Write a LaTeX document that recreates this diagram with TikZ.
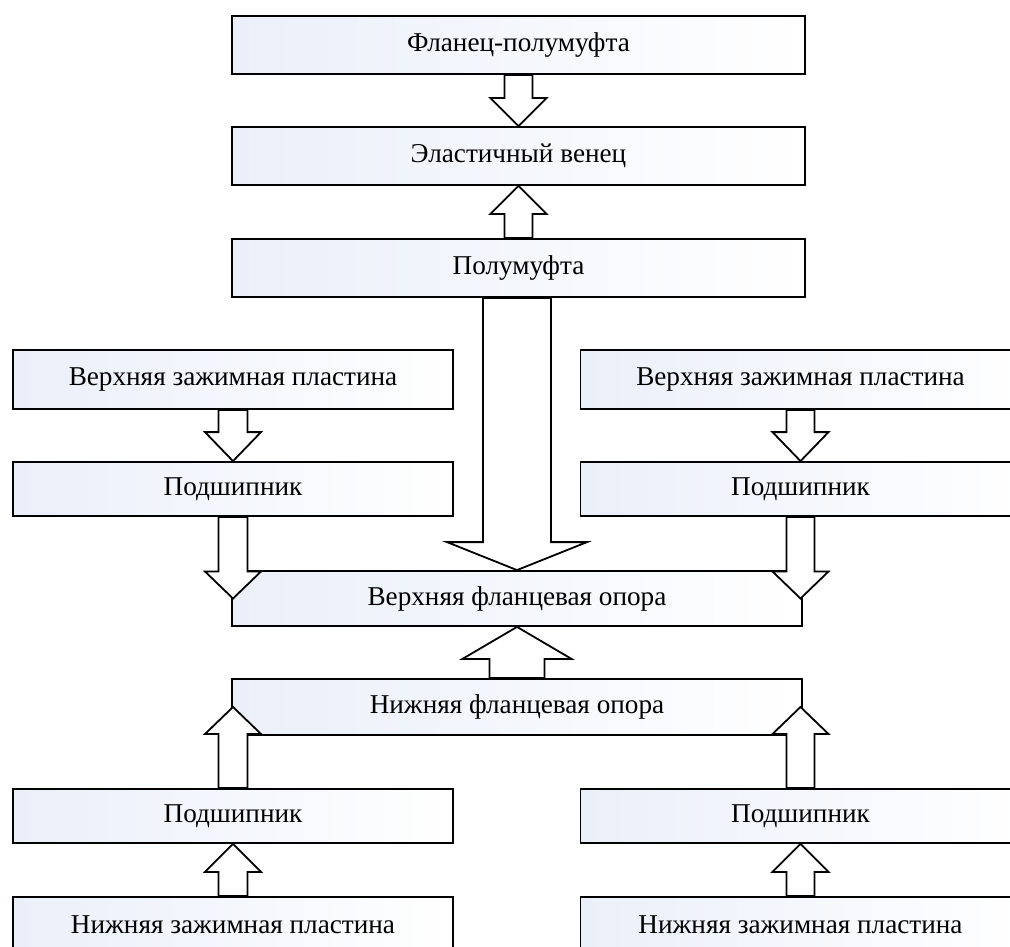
\documentclass[tikz,border=0pt]{standalone}
\usepackage{fontspec}
\setmainfont{Liberation Serif}
\usetikzlibrary{calc}
\definecolor{boxtint}{RGB}{234,239,249}
\tikzset{
  unit/.style={draw=black, line width=1.8pt, left color=boxtint, right color=white,
    inner sep=0pt, font=\fontsize{27.2}{31}\selectfont},
  blk/.style={draw=black, fill=white, line width=1.8pt, line join=miter},
}
% hollow block arrows: #1 start, #2 tip, #3 stem half width, #4 head half width, #5 head length
\newcommand\blkdown[5]{%
  \draw[blk] let \p1=(#1), \p2=(#2) in
    (\x2,\y2) -- (\x2+#4,\y2+#5) -- (\x2+#3,\y2+#5) -- (\x2+#3,\y1)
    -- (\x2-#3,\y1) -- (\x2-#3,\y2+#5) -- (\x2-#4,\y2+#5) -- cycle;}
\newcommand\blkup[5]{%
  \draw[blk] let \p1=(#1), \p2=(#2) in
    (\x2,\y2) -- (\x2+#4,\y2-#5) -- (\x2+#3,\y2-#5) -- (\x2+#3,\y1)
    -- (\x2-#3,\y1) -- (\x2-#3,\y2-#5) -- (\x2-#4,\y2-#5) -- cycle;}
\begin{document}
\begin{tikzpicture}[x=1pt, y=-1pt]
  \useasboundingbox (0,0) rectangle (1010,947);
  \clip (0,0) rectangle (1010,947);

  % central chain
  \node[unit, minimum width=573pt, minimum height=58pt] (flanec) at (518.5,45) {Фланец-полумуфта};
  \node[unit, minimum width=573pt, minimum height=58pt] (elast)  at (518.5,156) {Эластичный венец};
  \node[unit, minimum width=573pt, minimum height=58pt] (polum)  at (518.5,268) {Полумуфта};
  \node[unit, minimum width=570pt, minimum height=55pt] (flU)    at (517,598.5) {Верхняя фланцевая опора};
  \node[unit, minimum width=570pt, minimum height=56pt] (flL)    at (517,707) {Нижняя фланцевая опора};

  % left column
  \node[unit, minimum width=440pt, minimum height=59pt] (zhL)  at (233,379.5) {Верхняя зажимная пластина};
  \node[unit, minimum width=440pt, minimum height=54pt] (podL) at (233,489) {Подшипник};
  \node[unit, minimum width=440pt, minimum height=54pt] (podBL) at (233,816) {Подшипник};
  \node[unit, minimum width=440pt, minimum height=56pt] (nzL)  at (233,925) {Нижняя зажимная пластина};

  % right column
  \node[unit, minimum width=440pt, minimum height=59pt] (zhR)  at (800.5,379.5) {Верхняя зажимная пластина};
  \node[unit, minimum width=440pt, minimum height=54pt] (podR) at (800.5,489) {Подшипник};
  \node[unit, minimum width=440pt, minimum height=54pt] (podBR) at (800.5,816) {Подшипник};
  \node[unit, minimum width=440pt, minimum height=56pt] (nzR)  at (800.5,925) {Нижняя зажимная пластина};

  % arrows of the central chain
  \blkdown{flanec.south}{elast.north}{14pt}{28pt}{28pt}
  \blkup{polum.north}{elast.south}{14pt}{28pt}{28pt}
  \blkdown{polum.south}{flU.north}{34pt}{70pt}{28pt}
  \blkup{flL.north}{flU.south}{27.5pt}{54.5pt}{32pt}

  % upper side columns
  \blkdown{zhL.south}{podL.north}{14.5pt}{28pt}{29pt}
  \blkdown{zhR.south}{podR.north}{14pt}{28pt}{29pt}
  \blkdown{podL.south}{podL.south |- flU.west}{14.5pt}{28pt}{27pt}
  \blkdown{podR.south}{podR.south |- flU.west}{14pt}{28pt}{27pt}

  % lower side columns
  \blkup{podBL.north}{podBL.north |- flL.west}{14.5pt}{28pt}{27pt}
  \blkup{podBR.north}{podBR.north |- flL.west}{14pt}{28pt}{27pt}
  \blkup{nzL.north}{podBL.south}{14.5pt}{28pt}{28pt}
  \blkup{nzR.north}{podBR.south}{14pt}{28pt}{28pt}
\end{tikzpicture}
\end{document}
